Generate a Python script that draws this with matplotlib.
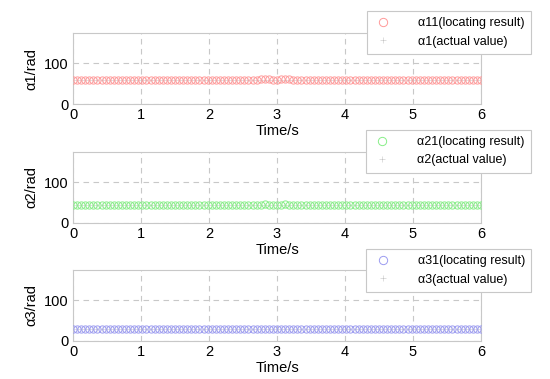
import numpy as np
import matplotlib
matplotlib.use('Agg')
import matplotlib.pyplot as plt

plt.rcParams['font.family'] = ['Liberation Sans', 'DejaVu Sans']

# sampling instants (s), one every 0.06 s
time = np.linspace(0, 6, 101)

# locating results (rad)
alpha11 = [60, 60, 60, 60, 60, 60, 60, 60, 60, 60, 60, 60, 60, 60, 60, 60, 60, 60, 60, 60,
           60, 60, 60, 60, 60, 60, 60, 60, 60, 60, 60, 60, 60, 60, 60, 60, 60, 60, 60, 60,
           60, 60, 60, 60, 60, 60, 61, 62, 61, 60, 60, 61, 62, 61, 60, 60, 60, 60, 60, 60,
           60, 60, 60, 60, 60, 60, 60, 60, 60, 60, 60, 60, 60, 60, 60, 60, 60, 60, 60, 60,
           60, 60, 60, 60, 60, 60, 60, 60, 60, 60, 60, 60, 60, 60, 60, 60, 60, 60, 60, 60, 60]
alpha21 = [45, 45, 45, 45, 45, 45, 45, 45, 45, 45, 45, 45, 45, 45, 45, 45, 45, 45, 45, 45,
           45, 45, 45, 45, 45, 45, 45, 45, 45, 45, 45, 45, 45, 45, 45, 45, 45, 45, 45, 45,
           45, 45, 45, 45, 45, 45, 45, 46, 45, 45, 45, 45, 46, 45, 45, 45, 45, 45, 45, 45,
           45, 45, 45, 45, 45, 45, 45, 45, 45, 45, 45, 45, 45, 45, 45, 45, 45, 45, 45, 45,
           45, 45, 45, 45, 45, 45, 45, 45, 45, 45, 45, 45, 45, 45, 45, 45, 45, 45, 45, 45, 45]
alpha31 = [30, 30, 30, 30, 30, 30, 30, 30, 30, 30, 30, 30, 30, 30, 30, 30, 30, 30, 30, 30,
           30, 30, 30, 30, 30, 30, 30, 30, 30, 30, 30, 30, 30, 30, 30, 30, 30, 30, 30, 30,
           30, 30, 30, 30, 30, 30, 30, 30, 30, 30, 30, 30, 30, 30, 30, 30, 30, 30, 30, 30,
           30, 30, 30, 30, 30, 30, 30, 30, 30, 30, 30, 30, 30, 30, 30, 30, 30, 30, 30, 30,
           30, 30, 30, 30, 30, 30, 30, 30, 30, 30, 30, 30, 30, 30, 30, 30, 30, 30, 30, 30, 30]

# actual values (rad)
actual = [60, 45, 30]

located = [alpha11, alpha21, alpha31]
colors = ['#ff9a9a', '#88ee88', '#9c9cf0']
ylabels = ['\u03b11/rad', '\u03b12/rad', '\u03b13/rad']
loc_names = ['\u03b111(locating result)', '\u03b121(locating result)', '\u03b131(locating result)']
act_names = ['\u03b11(actual value)', '\u03b12(actual value)', '\u03b13(actual value)']

W, H = 550, 379
fig = plt.figure(figsize=(5.5, 3.79), dpi=100)

# axes boxes in pixels: left, top, right, bottom
boxes = [(73, 33, 481, 104), (73, 152, 481, 223), (73, 270, 481, 341)]
# legend upper-right corners in pixels
leg_corner = [(531, 11), (531, 130), (531, 249)]

for i in range(3):
    l, t, r, b = boxes[i]
    ax = fig.add_axes([l / W, 1 - b / H, (r - l) / W, (b - t) / H])
    ax.plot(time, located[i], linestyle='none', marker='o', markersize=5.2,
            markerfacecolor='none', markeredgecolor=colors[i], markeredgewidth=0.7,
            label=loc_names[i], zorder=3)
    ax.plot(time, [actual[i]] * len(time), linestyle='none', marker='+', markersize=3.5,
            color='#c4c4c4', markeredgewidth=0.4, label=act_names[i], zorder=2)
    ax.set_xlim(0, 6)
    ax.set_ylim(0, 175)
    ax.set_xticks([0, 1, 2, 3, 4, 5, 6])
    ax.set_yticks([0, 100])
    ax.tick_params(direction='in', length=0, labelsize=10.5, pad=3)
    ax.grid(True, linestyle=(0, (5, 4)), color='#c8c8c8', linewidth=0.8)
    for s in ax.spines.values():
        s.set_color('#c8c8c8')
        s.set_linewidth(0.8)
    ax.set_xlabel('Time/s', fontsize=10.5, labelpad=1)
    ax.set_ylabel(ylabels[i], fontsize=10.5, labelpad=4)
    cx, cy = leg_corner[i]
    leg = ax.legend(loc='upper right', bbox_to_anchor=(cx / W, 1 - cy / H),
                    bbox_transform=fig.transFigure, fontsize=9, fancybox=False,
                    framealpha=1, edgecolor='#c8c8c8', borderpad=0.5,
                    handletextpad=2.0, handlelength=1.6, labelspacing=0.5,
                    borderaxespad=0, markerscale=1.15)
    leg.get_frame().set_linewidth(0.8)

plt.savefig('out.png', dpi=100)
